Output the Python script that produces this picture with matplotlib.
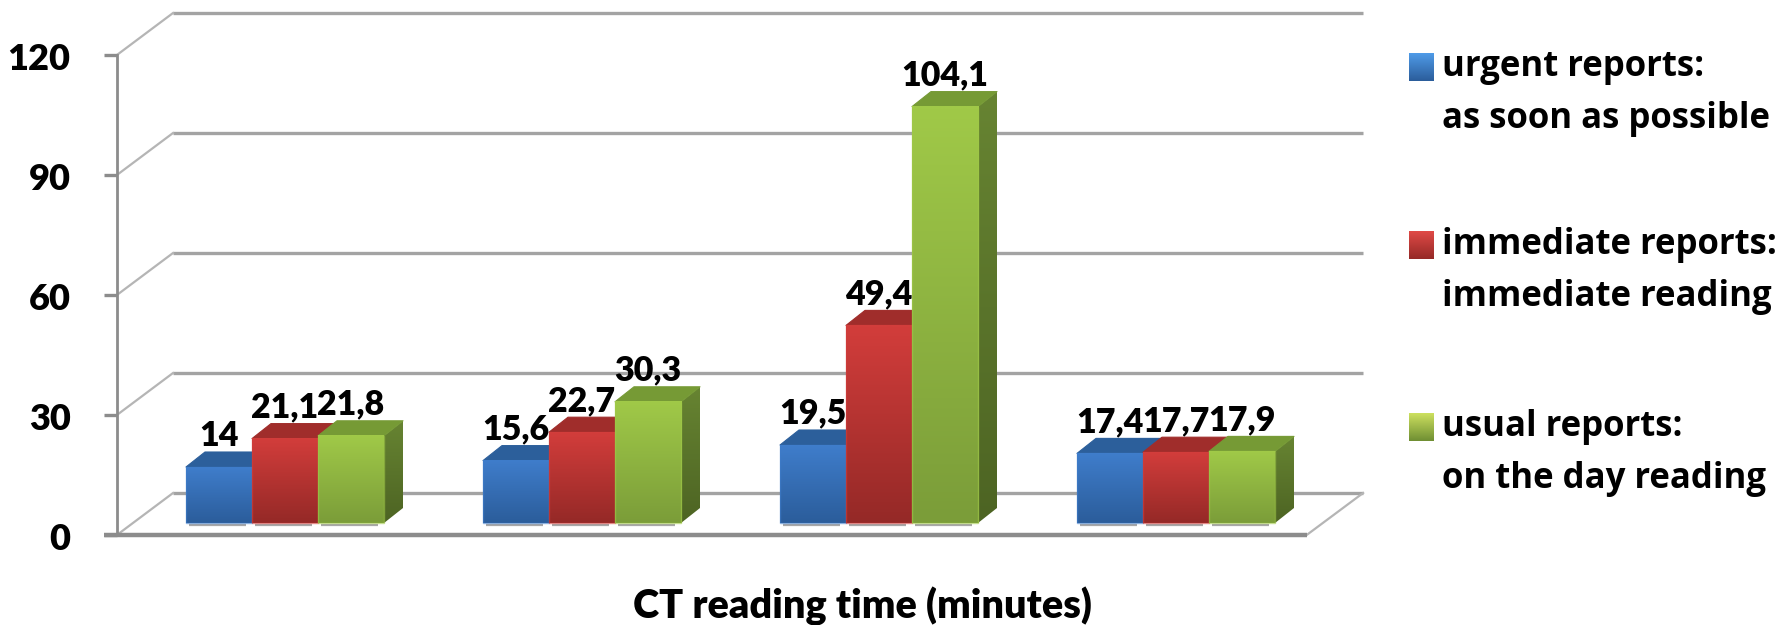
import numpy as np
import matplotlib
matplotlib.use("Agg")
import matplotlib.pyplot as plt
from matplotlib.patches import Polygon, Rectangle

groups = [0, 1, 2, 3]
urgent = [14, 15.6, 19.5, 17.4]
immediate = [21.1, 22.7, 49.4, 17.7]
usual = [21.8, 30.3, 104.1, 17.9]
urgent_labels = ["14", "15,6", "19,5", "17,4"]
immediate_labels = ["21,1", "22,7", "49,4", "17,7"]
usual_labels = ["21,8", "30,3", "104,1", "17,9"]
y_ticks = [0, 30, 60, 90, 120]
legend_lines = [
    ("urgent reports:", "as soon as possible"),
    ("immediate reports:", "immediate reading"),
    ("usual reports:", "on the day reading"),
]
xlabel = "CT reading time (minutes)"

W, H = 1786, 625
# axes fills the figure: 1 x unit = one group (297 px), 1 y unit = 4 px
fig = plt.figure(figsize=(W / 100, H / 100), dpi=100)
ax = fig.add_axes([0, 0, 1, 1])
x0_px, y0_px, group_px, unit_px = 285, 523, 297, 4
ax.set_xlim(-x0_px / group_px, (W - x0_px) / group_px)
ax.set_ylim((y0_px - H) / unit_px, y0_px / unit_px)
ax.axis("off")

bar_w = 66 / group_px
depth_x = 19 / group_px
depth_y = 15 / unit_px

# box of the fake 3d chart
front_l, front_r = -0.566, 3.44
back_l, back_r = -0.377, 3.63
front_y = -3
back_y = 7.5
grid_c = "#a3a3a3"
axis_c = "#8c8c8c"

for t in y_ticks:
    ax.plot([back_l, back_r], [back_y + t, back_y + t], color=grid_c, lw=2.4, zorder=1, solid_capstyle="butt")
    ax.plot([front_l, back_l], [front_y + t, back_y + t], color="#b5b5b5", lw=1.6, zorder=1)
    ax.plot([front_l - 0.045, front_l], [front_y + t, front_y + t], color=axis_c, lw=2.4, zorder=2, solid_capstyle="butt")
    ax.text(front_l - 0.156, front_y + t - 1.2, str(t), ha="right", va="center", fontsize=26,
            fontweight="heavy", family="Lato", color="black")
ax.plot([front_l, front_l], [front_y, front_y + 120], color=axis_c, lw=2.0, zorder=2)
ax.plot([front_l - 0.045, front_r], [front_y, front_y], color=axis_c, lw=3.2, zorder=2, solid_capstyle="butt")
ax.plot([front_r, back_r], [front_y, back_y], color="#b5b5b5", lw=1.6, zorder=1)


def gradient(x1, x2, y1, y2, top, bottom, clip=None, z=5):
    c1 = np.array(matplotlib.colors.to_rgb(top))
    c2 = np.array(matplotlib.colors.to_rgb(bottom))
    f = np.linspace(0, 1, 64)[:, None, None]
    img = (1 - f) * c1[None, None, :] + f * c2[None, None, :]
    im = ax.imshow(img, extent=[x1, x2, y1, y2], origin="upper", aspect="auto", zorder=z, interpolation="bilinear")
    if clip is not None:
        im.set_clip_path(clip)
    return im


def draw_bar(x, v, front_top, front_bottom, top_c, side_top, side_bottom, z):
    l, r = x - bar_w / 2, x + bar_w / 2
    gradient(l, r, 0, v, front_top, front_bottom, z=z)
    # edge lighter highlight on the front
    ax.add_patch(Rectangle((l, 0), bar_w, v, fill=False, ec=front_top, lw=1, alpha=0.6, zorder=z))
    side = Polygon([(r, 0), (r + depth_x, depth_y), (r + depth_x, v + depth_y), (r, v)], closed=True,
                   fc="none", ec="none", zorder=z - 0.1)
    ax.add_patch(side)
    gradient(r, r + depth_x, 0, v + depth_y, side_top, side_bottom, clip=side, z=z - 0.1)
    ax.add_patch(Polygon([(l, v), (l + depth_x, v + depth_y), (r + depth_x, v + depth_y), (r, v)], closed=True,
                         fc=top_c, ec=top_c, lw=0.8, joinstyle="round", zorder=z - 0.1))
    ax.plot([l + 0.01, r - 0.02], [-0.6, -0.6], color="#a8a8a8", lw=1.6, zorder=z - 0.2, solid_capstyle="butt")


series = [
    (urgent, urgent_labels, -1, ("#3f7dcb", "#2b5d9b", "#2c5f9b", "#2b5a94", "#23497a")),
    (immediate, immediate_labels, 0, ("#d23d3b", "#952927", "#a02d2b", "#8f2a28", "#722120")),
    (usual, usual_labels, 1, ("#a0c948", "#7b9d39", "#769a35", "#678432", "#4d6423")),
]
for vals, labs, off, (ft, fb, tc, st, sb) in series:
    for g, v, lab in zip(groups, vals, labs):
        x = g + off * bar_w
        draw_bar(x, v, ft, fb, tc, st, sb, z=5 + off)
        ax.text(x, v + 7.8, lab, ha="center", va="center", fontsize=24.5, fontweight="heavy",
                family="Lato", color="black", zorder=12)

# legend
legend_y = [113.9, 69.4, 24.0]  # first text line, in y units
gap = 13
colors = [("#4f9be8", "#2b5d9b"), ("#e04a46", "#952927"), ("#cde05f", "#6f8f33")]
sq_l = (1409 - x0_px) / group_px
sq_w = 25 / group_px
for (a, b), yy, (c1, c2) in zip(legend_lines, legend_y, colors):
    gradient(sq_l, sq_l + sq_w, yy - 3.4, yy + 3.4, c1, c2, z=5)
    tx = (1442 - x0_px) / group_px
    ax.text(tx, yy, a, ha="left", va="center", fontsize=25, fontweight="bold", family="Open Sans", color="black")
    ax.text(tx, yy - gap, b, ha="left", va="center", fontsize=25, fontweight="bold", family="Open Sans", color="black")

ax.text((862 - x0_px) / group_px, (y0_px - 606) / unit_px, xlabel, ha="center", va="center", fontsize=28.5,
        fontweight="heavy", family="Lato", color="black")

ax.set_xlim(-x0_px / group_px, (W - x0_px) / group_px)
ax.set_ylim((y0_px - H) / unit_px, y0_px / unit_px)
fig.savefig("out.png", dpi=100, facecolor="white")
